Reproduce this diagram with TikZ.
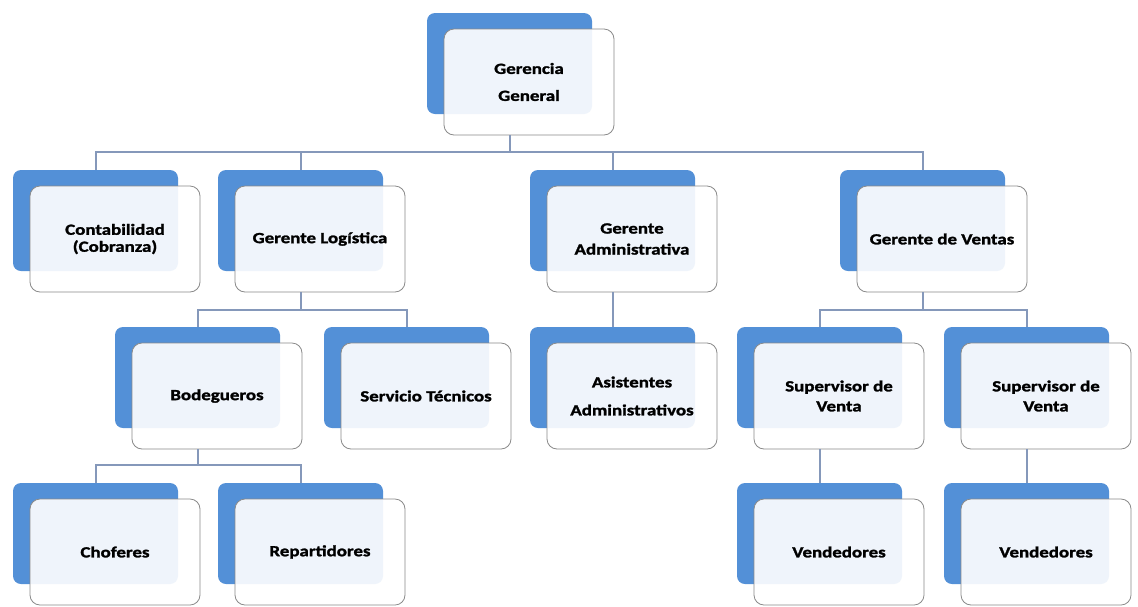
\documentclass[tikz,border=0pt]{standalone}
\usepackage{fontspec}
\newfontfamily\lbl{Carlito}[FakeStretch=1.22,FakeBold=1.6]
\definecolor{boxblue}{HTML}{5390D7}
\definecolor{edgegray}{HTML}{8A8A8A}
\definecolor{conncol}{HTML}{8598BA}
\tikzset{
  bluebox/.style={fill=boxblue, draw=none, rounded corners=8pt, minimum width=165pt, minimum height=101pt, inner sep=0pt},
  frontbox/.style={fill=white, fill opacity=0.91, text opacity=1, draw=edgegray, line width=0.8pt, rounded corners=10pt,
    minimum width=170pt, minimum height=106pt, inner sep=0pt, align=center, text=black,
    font=\lbl\bfseries\fontsize{15.5}{20}\selectfont},
  conn/.style={draw=conncol, line width=2pt}
}
\newcommand\orgunit[4]{%
  \node[bluebox] (#1b) at ({#2+82.5},{#3+50.5}) {};
  \node[frontbox] (#1) at ({#2+102},{#3+69}) {#4};}
\begin{document}
\begin{tikzpicture}[x=1pt,y=-1pt]
\fill[white] (0,0) rectangle (1138,606);
\useasboundingbox (0,0) rectangle (1138,606);
\coordinate (bus1) at (0,152);
\coordinate (bus2) at (0,310);
\coordinate (bus3) at (0,465);
% units
\orgunit{gg}{427}{13}{Gerencia\\[7pt]General}
\orgunit{cont}{13}{170}{Contabilidad\\[-3pt](Cobranza)}
\orgunit{log}{218}{170}{Gerente Logística}
\orgunit{adm}{530}{170}{Gerente\\[1pt]Administrativa}
\orgunit{ven}{840}{170}{Gerente de Ventas}
\orgunit{bod}{115}{327}{Bodegueros}
\orgunit{ser}{324}{327}{Servicio Técnicos}
\orgunit{asi}{530}{327}{Asistentes\\[8pt]Administrativos}
\orgunit{supa}{737}{327}{Supervisor de\\Venta}
\orgunit{supb}{944}{327}{Supervisor de\\Venta}
\orgunit{cho}{13}{483}{Choferes}
\orgunit{rep}{218}{483}{Repartidores}
\orgunit{vnda}{737}{483}{Vendedores}
\orgunit{vndb}{944}{483}{Vendedores}
% connectors
\draw[conn] (ggb |- gg.south) -- (ggb |- bus1);
\draw[conn] (contb.north) |- (venb |- bus1) -- (venb.north);
\draw[conn] (logb |- bus1) -- (logb.north);
\draw[conn] (admb |- bus1) -- (admb.north);
\draw[conn] (logb |- log.south) -- (logb |- bus2);
\draw[conn] (bodb.north) |- (serb |- bus2) -- (serb.north);
\draw[conn] (admb |- adm.south) -- (asib.north);
\draw[conn] (venb |- ven.south) -- (venb |- bus2);
\draw[conn] (supab.north) |- (supbb |- bus2) -- (supbb.north);
\draw[conn] (bodb |- bod.south) -- (bodb |- bus3);
\draw[conn] (chob.north) |- (repb |- bus3) -- (repb.north);
\draw[conn] (supab |- supa.south) -- (vndab.north);
\draw[conn] (supbb |- supb.south) -- (vndbb.north);
\end{tikzpicture}
\end{document}
